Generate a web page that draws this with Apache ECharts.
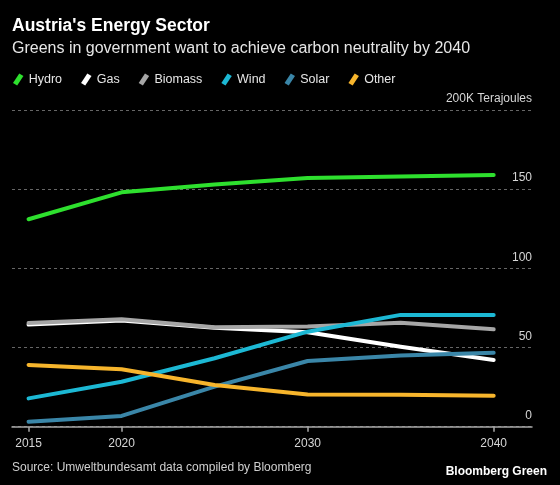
<!DOCTYPE html>
<html>
<head>
<meta charset="utf-8">
<script src="https://cdn.jsdelivr.net/npm/echarts@6/dist/echarts.min.js"></script>
<style>
html,body{margin:0;padding:0;background:#000;}
#chart{width:560px;height:485px;}
</style>
</head>
<body>
<div id="chart"></div>
<script>
var years = [2015, 2020, 2025, 2030, 2035, 2040];
var tickYears = [2015, 2020, 2030, 2040];
var hydro   = [131, 148, 153, 157, 158, 159];
var gas     = [64.5, 67, 62.5, 59.6, 50.5, 42.1];
var biomass = [65.5, 67.8, 62.8, 63.2, 65.7, 61.5];
var wind    = [17.9, 28.4, 43.2, 60, 70.6, 70.6];
var solar   = [3.2, 6.8, 25.3, 41.5, 44.9, 46.7];
var other   = [39, 36.3, 26.3, 20.3, 20.2, 19.6];
var seriesNames = ['Hydro', 'Gas', 'Biomass', 'Wind', 'Solar', 'Other'];
var seriesData = [hydro, gas, biomass, wind, solar, other];
var colors = ['#2ee02e', '#ffffff', '#a6a6a6', '#1cb8d4', '#3a86a8', '#f7b52c'];

var FONT = "'Liberation Sans', Arial, sans-serif";
var chart = echarts.init(document.getElementById('chart'), null, {renderer: 'canvas'});

function pairs(arr) {
  return years.map(function (y, i) { return [y, arr[i]]; });
}

var series = seriesNames.map(function (n, i) {
  return {
    name: n,
    type: 'line',
    data: pairs(seriesData[i]),
    symbol: 'none',
    smooth: false,
    lineStyle: {width: 4, color: colors[i], cap: 'round', join: 'round'},
    itemStyle: {color: colors[i]},
    z: 2 + i
  };
});

var option = {
  backgroundColor: '#000',
  animation: false,
  title: [
    {text: "Austria's Energy Sector", left: 12, top: 17, padding: 0,
     textStyle: {color: '#fff', fontSize: 17.5, fontWeight: 'bold', fontFamily: FONT}},
    {text: 'Greens in government want to achieve carbon neutrality by 2040', left: 12, top: 41, padding: 0,
     textStyle: {color: '#e6e6e6', fontSize: 16, fontWeight: 'normal', fontFamily: FONT}}
  ],
  legend: {
    left: 13, top: 73, padding: 0,
    itemWidth: 11, itemHeight: 12, itemGap: 19,
    icon: 'path://M0,9 L6,0 L10,2.5 L4,11.5 Z',
    textStyle: {color: '#e6e6e6', fontSize: 12.5, fontFamily: FONT},
    data: seriesNames
  },
  grid: {left: 12, right: 28, top: 110, bottom: 58.3, containLabel: false},
  xAxis: {
    type: 'value',
    min: 2014.11, max: 2042.06,
    axisLine: {show: true, lineStyle: {color: '#a8a8a8', width: 1.5}},
    axisTick: {show: true, customValues: tickYears, length: 5, lineStyle: {color: '#a8a8a8', width: 1.5}},
    axisLabel: {customValues: tickYears, color: '#d6d6d6', fontSize: 12, fontFamily: FONT, margin: 11,
                formatter: function (v) { return String(v); }},
    splitLine: {show: false}
  },
  yAxis: {
    type: 'value',
    position: 'right',
    min: 0, max: 200, interval: 50,
    axisLine: {show: false},
    axisTick: {show: false},
    axisLabel: {
      inside: true, margin: 0, color: '#d6d6d6', fontSize: 12, fontFamily: FONT,
      verticalAlign: 'bottom', padding: [0, 0, 5, 0],
      formatter: function (v) { return v === 200 ? '200K Terajoules' : String(v); }
    },
    splitLine: {show: true, lineStyle: {color: '#666', type: [3, 3], width: 1}}
  },
  graphic: [
    {type: 'text', left: 12, top: 462,
     style: {text: 'Source: Umweltbundesamt data compiled by Bloomberg', fill: '#cfcfcf', font: '12px ' + FONT}},
    {type: 'text', right: 13, top: 466,
     style: {text: 'Bloomberg Green', fill: '#fff', font: 'bold 12px ' + FONT}}
  ],
  series: series
};
chart.setOption(option);
</script>
</body>
</html>
